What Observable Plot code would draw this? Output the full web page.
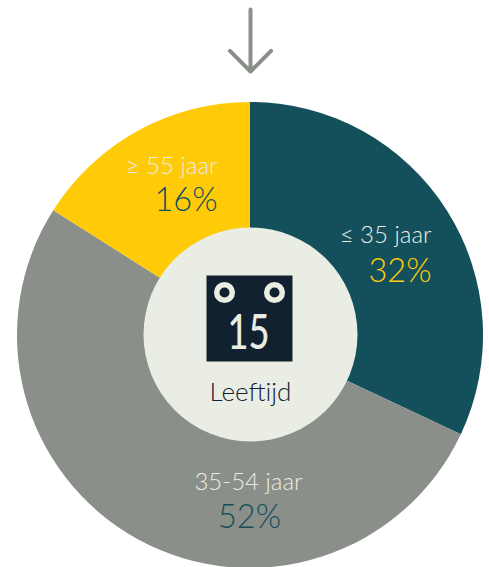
<!DOCTYPE html>
<html>
<head>
<meta charset="utf-8">
<style>html,body{margin:0;padding:0;background:#fff}svg{display:block}</style>
<script src="https://cdn.jsdelivr.net/npm/d3@7"></script>
<script src="https://cdn.jsdelivr.net/npm/@observablehq/plot@0.6"></script>
</head>
<body>
<script>
const categories = ["≤ 35 jaar", "35-54 jaar", "≥ 55 jaar"];
const shares = [32, 52, 16];
const percentLabels = ["32%", "52%", "16%"];
const sliceColors = ["#14505c", "#8b8f89", "#ffcb08"];
const percentColors = ["#ffcb08", "#14505c", "#14505c"];
const centerLabel = "Leeftijd";
const iconLabel = "15";

const font = "Lato, 'Open Sans', sans-serif";
const cx = 250, cy = 335, outerR = 233, innerR = 107;
const paper = "#e9ede3", ink = "#12212f";

let running = 0;
const slices = categories.map((name, i) => {
  const start = running; running += shares[i];
  return {name, start, end: running};
});

// Places a mark at a pixel position in the frame
const at = (x, y) => ({frameAnchor: "top-left", dx: x, dy: y});

function wedges(index, scales, values) {
  const arc = d3.arc().innerRadius(0).outerRadius(outerR);
  const g = d3.create("svg:g").attr("transform", `translate(${cx},${cy})`);
  for (const i of index) {
    g.append("path")
      .attr("d", arc({startAngle: values.x1[i], endAngle: values.x2[i]}))
      .attr("fill", values.fill[i]);
  }
  return g.node();
}

// Draws the text through Plot, then narrows it to the width of the reference's digits
function condensed(index, scales, values, dimensions, context, next) {
  const g = next(index, scales, values, dimensions, context);
  d3.select(g).selectAll("text").attr("transform", function() {
    return (this.getAttribute("transform") || "") + " scale(0.74,1)";
  });
  return g;
}

const label = (text, x, y, size, fill, anchor, weight = 300) =>
  Plot.text([text], {...at(x, y), text: d => d, fontSize: size, fill, textAnchor: anchor,
    lineAnchor: "bottom", fontFamily: font, fontWeight: weight});

const plot = Plot.plot({
  width: 489,
  height: 567,
  margin: 0,
  x: {domain: [0, 100], range: [0, 2 * Math.PI], axis: null},
  color: {domain: categories, range: sliceColors},
  marks: [
    Plot.rect(slices, {x1: "start", x2: "end", fill: "name", render: wedges}),
    Plot.vector([0], {...at(250, 9), length: 62, rotate: 180, anchor: "start", r: 5.8,
      stroke: "#8b8f89", strokeWidth: 4, strokeLinecap: "round", strokeLinejoin: "round"}),
    Plot.dot([0], {...at(cx, 334), r: innerR, fill: paper}),
    Plot.dot([0], {...at(249, 318), r: 48.5, symbol: "square", fill: ink}),
    Plot.dot([0], {...at(224, 292), r: 7.8, stroke: paper, strokeWidth: 5.5, fill: "none"}),
    Plot.dot([0], {...at(274, 292), r: 7.8, stroke: paper, strokeWidth: 5.5, fill: "none"}),
    Plot.text([iconLabel], {...at(248, 348), text: d => d, fontSize: 49, fill: paper,
      textAnchor: "middle", lineAnchor: "bottom", fontFamily: font, fontWeight: 500, render: condensed}),
    label(centerLabel, 250, 400, 26, ink, "middle", 300),
    label(categories[0], 431, 242, 24, paper, "end"),
    label(percentLabels[0], 431, 281, 32.5, percentColors[0], "end"),
    label(categories[1], 248, 489, 24, paper, "middle"),
    label(percentLabels[1], 249, 527, 32.5, percentColors[1], "middle"),
    label(categories[2], 217, 173, 24, paper, "end"),
    label(percentLabels[2], 217, 210, 32.5, percentColors[2], "end")
  ]
});
document.body.append(plot);
</script>
</body>
</html>
